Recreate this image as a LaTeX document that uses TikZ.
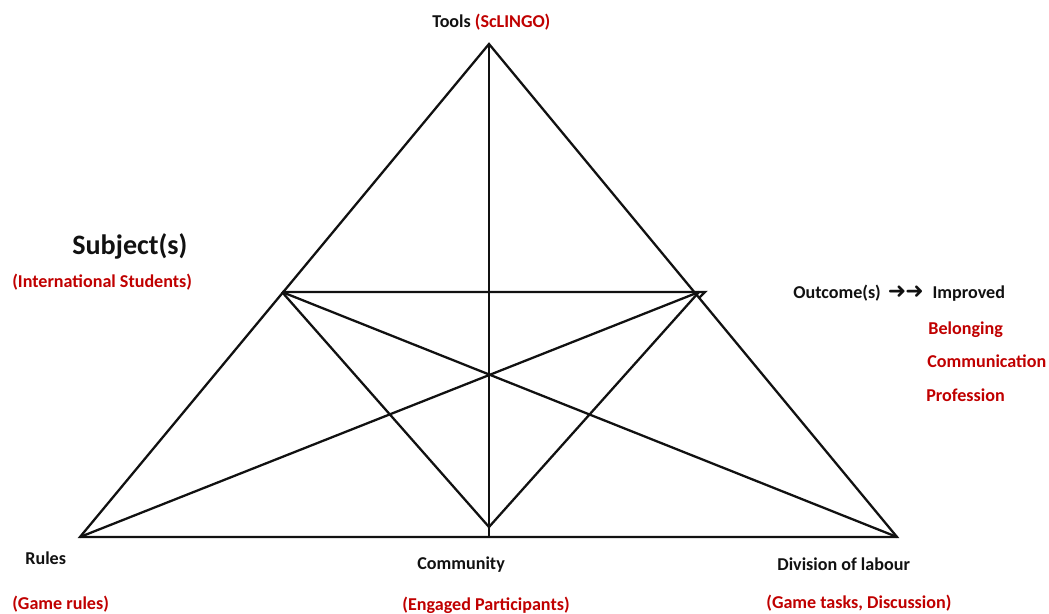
\documentclass[tikz,border=0pt]{standalone}
\usepackage{fontspec}
\setmainfont{Carlito}
\newfontfamily\arrowfont{DejaVu Sans}
\definecolor{darkred}{HTML}{C00000}
\definecolor{inkblack}{HTML}{111111}

\tikzset{
    edge/.style={draw=inkblack, line width=1.3pt, line join=miter},
    lbl/.style={anchor=base west, inner sep=0pt, font=\fontsize{10.3}{12}\selectfont\bfseries, text=inkblack},
    sub/.style={lbl, text=darkred},
}

\begin{document}
\begin{tikzpicture}[x=0.02cm, y=-0.02cm]
    \useasboundingbox (0, 0) rectangle (1049, 614);

    \coordinate (apex) at (489, 44);
    \coordinate (bl) at (80, 537);
    \coordinate (br) at (897, 537);
    \coordinate (bm) at (489, 537);
    \coordinate (lft) at (282, 292);
    \coordinate (rgt) at (699, 292);
    \coordinate (tip) at (705, 292);
    \coordinate (low) at (489, 527);

    \draw[edge] (apex) -- (bl) -- (br) -- cycle;
    \draw[edge] (apex) -- (bm);
    \draw[edge] (lft) -- (tip) -- (rgt |- 0, 298);
    \draw[edge] (lft) -- (br);
    \draw[edge] (rgt) -- (bl);
    \draw[edge] (lft) -- (low) -- (rgt);

    \node[lbl] (tools) at (432, 28) {Tools \textcolor{darkred}{(ScLINGO)}};
    \node[lbl, font=\fontsize{16}{19}\selectfont\bfseries] (subject) at (72, 255) {Subject(s)};
    \node[sub] (subjectsub) at (12, 288) {(International Students)};
    \node[lbl] (outcome) at (793, 299) {Outcome(s)\hspace{4pt}{\arrowfont\fontsize{12.5}{14}\selectfont ➜\kern-0.5pt➜}\hspace{5pt}Improved};
    \foreach \name / \x / \y / \txt in {belonging/928/335/Belonging, communication/927/368/Communication, profession/926/402/Profession}
        \node[sub] (\name) at (\x, \y) {\txt};
    \node[lbl] (rules) at (25, 565) {Rules};
    \node[sub] (rulessub) at (12, 610) {(Game rules)};
    \node[lbl] (community) at (417, 570) {Community};
    \node[sub] (communitysub) at (402, 611) {(Engaged Participants)};
    \node[lbl] (division) at (777, 571) {Division of labour};
    \node[sub] (divisionsub) at (766, 609) {(Game tasks, Discussion)};

\end{tikzpicture}
\end{document}
